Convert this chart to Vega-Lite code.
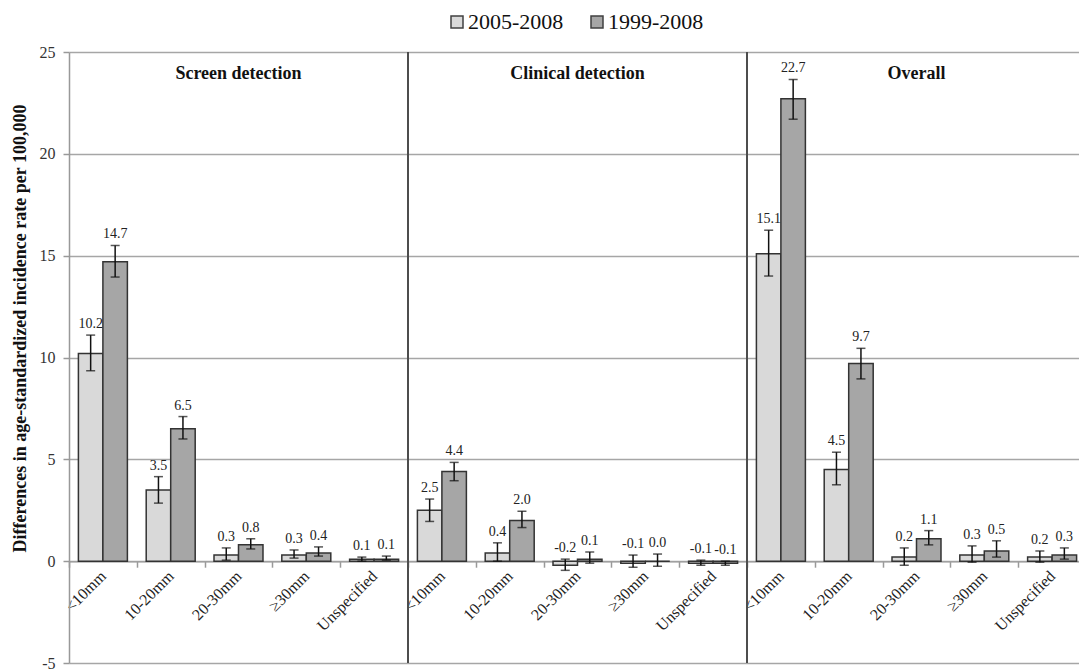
{
  "$schema": "https://vega.github.io/schema/vega-lite/v6.json",
  "width": 1010,
  "height": 611,
  "autosize": {"type": "none"},
  "padding": {"left": 69, "top": 52, "right": 0, "bottom": 7},
  "background": "white",
  "config": {
    "view": {"stroke": null},
    "font": "Liberation Serif, Times New Roman, serif",
    "locale": {
      "number": {"decimal": ".", "thousands": ",", "grouping": [3], "currency": ["$", ""], "minus": "-"}
    }
  },
  "datasets": {
    "rates": [
      {"cat": "S|<10mm", "period": "2005-2008", "value": 10.2, "lo": 9.35, "hi": 11.1},
      {"cat": "S|<10mm", "period": "1999-2008", "value": 14.7, "lo": 13.95, "hi": 15.5},
      {"cat": "S|10-20mm", "period": "2005-2008", "value": 3.5, "lo": 2.85, "hi": 4.15},
      {"cat": "S|10-20mm", "period": "1999-2008", "value": 6.5, "lo": 6.0, "hi": 7.1},
      {"cat": "S|20-30mm", "period": "2005-2008", "value": 0.3, "lo": 0.05, "hi": 0.65},
      {"cat": "S|20-30mm", "period": "1999-2008", "value": 0.8, "lo": 0.6, "hi": 1.1},
      {"cat": "S|≥30mm", "period": "2005-2008", "value": 0.3, "lo": 0.15, "hi": 0.55},
      {"cat": "S|≥30mm", "period": "1999-2008", "value": 0.4, "lo": 0.25, "hi": 0.7},
      {"cat": "S|Unspecified", "period": "2005-2008", "value": 0.1, "lo": 0.0, "hi": 0.2},
      {"cat": "S|Unspecified", "period": "1999-2008", "value": 0.1, "lo": 0.05, "hi": 0.25},
      {"cat": "C|<10mm", "period": "2005-2008", "value": 2.5, "lo": 1.95, "hi": 3.05},
      {"cat": "C|<10mm", "period": "1999-2008", "value": 4.4, "lo": 3.95, "hi": 4.85},
      {"cat": "C|10-20mm", "period": "2005-2008", "value": 0.4, "lo": 0.0, "hi": 0.9},
      {"cat": "C|10-20mm", "period": "1999-2008", "value": 2.0, "lo": 1.65, "hi": 2.45},
      {"cat": "C|20-30mm", "period": "2005-2008", "value": -0.2, "lo": -0.45, "hi": 0.1},
      {"cat": "C|20-30mm", "period": "1999-2008", "value": 0.1, "lo": -0.1, "hi": 0.45},
      {"cat": "C|≥30mm", "period": "2005-2008", "value": -0.1, "lo": -0.3, "hi": 0.3},
      {"cat": "C|≥30mm", "period": "1999-2008", "value": 0.0, "lo": -0.25, "hi": 0.35},
      {"cat": "C|Unspecified", "period": "2005-2008", "value": -0.1, "lo": -0.2, "hi": 0.05},
      {"cat": "C|Unspecified", "period": "1999-2008", "value": -0.1, "lo": -0.2, "hi": 0.0},
      {"cat": "O|<10mm", "period": "2005-2008", "value": 15.1, "lo": 14.0, "hi": 16.25},
      {"cat": "O|<10mm", "period": "1999-2008", "value": 22.7, "lo": 21.7, "hi": 23.65},
      {"cat": "O|10-20mm", "period": "2005-2008", "value": 4.5, "lo": 3.75, "hi": 5.35},
      {"cat": "O|10-20mm", "period": "1999-2008", "value": 9.7, "lo": 8.95, "hi": 10.45},
      {"cat": "O|20-30mm", "period": "2005-2008", "value": 0.2, "lo": -0.2, "hi": 0.65},
      {"cat": "O|20-30mm", "period": "1999-2008", "value": 1.1, "lo": 0.8, "hi": 1.5},
      {"cat": "O|≥30mm", "period": "2005-2008", "value": 0.3, "lo": -0.05, "hi": 0.75},
      {"cat": "O|≥30mm", "period": "1999-2008", "value": 0.5, "lo": 0.2, "hi": 1.0},
      {"cat": "O|Unspecified", "period": "2005-2008", "value": 0.2, "lo": -0.05, "hi": 0.5},
      {"cat": "O|Unspecified", "period": "1999-2008", "value": 0.3, "lo": 0.1, "hi": 0.65}
    ],
    "separators": [
      {"cat": "C|<10mm"},
      {"cat": "O|<10mm"}
    ],
    "panels": [
      {"cat": "S|20-30mm", "title": "Screen detection"},
      {"cat": "C|20-30mm", "title": "Clinical  detection"},
      {"cat": "O|20-30mm", "title": "Overall"}
    ]
  },
  "layer": [
    {
      "data": {"name": "rates"},
      "mark": {"type": "bar", "stroke": "#333333", "strokeWidth": 1.5},
      "encoding": {
        "x": {
          "field": "cat",
          "type": "nominal",
          "sort": null,
          "scale": {"range": [0, 1017], "paddingInner": 0, "paddingOuter": 0},
          "axis": {
            "title": null,
            "orient": "bottom",
            "offset": -101.8,
            "labelExpr": "split(datum.label, '|')[1]",
            "labelAngle": -45,
            "labelAlign": "right",
            "labelBaseline": "middle",
            "labelFont": "Liberation Serif, Times New Roman, serif",
            "labelFontSize": 16,
            "labelColor": "#222222",
            "labelPadding": 6,
            "tickBand": "extent",
            "tickSize": 6,
            "tickColor": "#999999",
            "tickWidth": 1.5,
            "domainColor": "#a0a0a0",
            "domainWidth": 1.5,
            "grid": false
          }
        },
        "xOffset": {
          "field": "period",
          "type": "nominal",
          "sort": ["2005-2008", "1999-2008"],
          "scale": {"paddingInner": 0, "paddingOuter": 0.384}
        },
        "y": {
          "field": "value",
          "type": "quantitative",
          "scale": {"domain": [-5, 25], "nice": false, "zero": false},
          "axis": {
            "title": "Differences in age-standardized incidence rate per 100,000",
            "titleFont": "Liberation Serif, Times New Roman, serif",
            "titleFontSize": 18,
            "titleFontWeight": "bold",
            "titleColor": "#111111",
            "titleX": -40,
            "titleY": 276,
            "values": [-5, 0, 5, 10, 15, 20, 25],
            "labelFont": "Liberation Serif, Times New Roman, serif",
            "labelFontSize": 16,
            "labelColor": "#333333",
            "labelPadding": 8,
            "tickSize": 6,
            "tickColor": "#999999",
            "tickWidth": 1.5,
            "domainColor": "#999999",
            "domainWidth": 1.5,
            "grid": true,
            "gridColor": "#a6a6a6",
            "gridWidth": 1.5
          }
        },
        "fill": {
          "field": "period",
          "type": "nominal",
          "sort": ["2005-2008", "1999-2008"],
          "scale": {"domain": ["2005-2008", "1999-2008"], "range": ["#d9d9d9", "#a6a6a6"]},
          "legend": {
            "title": null,
            "orient": "none",
            "direction": "horizontal",
            "legendX": 377,
            "legendY": -41,
            "padding": 0,
            "symbolType": "square",
            "symbolSize": 144,
            "symbolStrokeColor": "#404040",
            "symbolStrokeWidth": 1.5,
            "labelFont": "Liberation Serif, Times New Roman, serif",
            "labelFontSize": 22,
            "labelColor": "#111111",
            "labelOffset": 0,
            "columnPadding": 22
          }
        }
      }
    },
    {
      "data": {"name": "separators"},
      "mark": {"type": "rule", "color": "#4d4d4d", "strokeWidth": 2},
      "encoding": {
        "x": {"field": "cat", "type": "nominal", "sort": null, "bandPosition": 0}
      }
    },
    {
      "data": {"name": "rates"},
      "mark": {"type": "rule", "color": "#111111", "strokeWidth": 1.5},
      "encoding": {
        "x": {"field": "cat", "type": "nominal", "sort": null},
        "xOffset": {"field": "period", "type": "nominal", "sort": ["2005-2008", "1999-2008"]},
        "y": {"field": "lo", "type": "quantitative"},
        "y2": {"field": "hi"}
      }
    },
    {
      "data": {"name": "rates"},
      "mark": {"type": "tick", "color": "#111111", "size": 9, "thickness": 1.5, "orient": "horizontal"},
      "encoding": {
        "x": {"field": "cat", "type": "nominal", "sort": null},
        "xOffset": {"field": "period", "type": "nominal", "sort": ["2005-2008", "1999-2008"]},
        "y": {"field": "hi", "type": "quantitative"}
      }
    },
    {
      "data": {"name": "rates"},
      "mark": {"type": "tick", "color": "#111111", "size": 9, "thickness": 1.5, "orient": "horizontal"},
      "encoding": {
        "x": {"field": "cat", "type": "nominal", "sort": null},
        "xOffset": {"field": "period", "type": "nominal", "sort": ["2005-2008", "1999-2008"]},
        "y": {"field": "lo", "type": "quantitative"}
      }
    },
    {
      "data": {"name": "rates"},
      "mark": {"type": "text", "font": "Liberation Serif, Times New Roman, serif", "fontSize": 14, "color": "#222222", "baseline": "alphabetic", "dy": -7},
      "encoding": {
        "x": {"field": "cat", "type": "nominal", "sort": null},
        "xOffset": {"field": "period", "type": "nominal", "sort": ["2005-2008", "1999-2008"]},
        "y": {"field": "hi", "type": "quantitative"},
        "text": {"field": "value", "type": "quantitative", "format": ".1f"}
      }
    },
    {
      "data": {"name": "panels"},
      "mark": {"type": "text", "font": "Liberation Serif, Times New Roman, serif", "fontSize": 18, "fontWeight": "bold", "color": "#111111", "baseline": "middle"},
      "encoding": {
        "x": {"field": "cat", "type": "nominal", "sort": null},
        "y": {"datum": 23.9, "type": "quantitative"},
        "text": {"field": "title", "type": "nominal"}
      }
    }
  ]
}
